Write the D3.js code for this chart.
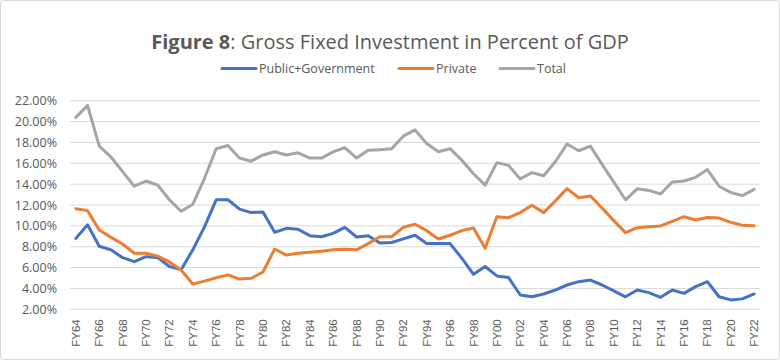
<!DOCTYPE html>
<html>
<head>
<meta charset="utf-8">
<script src="https://cdn.jsdelivr.net/npm/d3@7"></script>
<style>
  html, body { margin: 0; padding: 0; background: #fff; }
  svg { display: block; }
</style>
</head>
<body>
<svg id="chart" width="780" height="360"></svg>
<script>
const years = ["FY64","FY65","FY66","FY67","FY68","FY69","FY70","FY71","FY72","FY73","FY74","FY75","FY76","FY77","FY78","FY79","FY80","FY81","FY82","FY83","FY84","FY85","FY86","FY87","FY88","FY89","FY90","FY91","FY92","FY93","FY94","FY95","FY96","FY97","FY98","FY99","FY00","FY01","FY02","FY03","FY04","FY05","FY06","FY07","FY08","FY09","FY10","FY11","FY12","FY13","FY14","FY15","FY16","FY17","FY18","FY19","FY20","FY21","FY22"];

const publicGov = [8.8,10.1,8.05,7.7,6.95,6.57,7.05,6.95,6.1,5.8,7.7,9.9,12.5,12.5,11.6,11.27,11.33,9.38,9.76,9.67,9.06,8.96,9.28,9.86,8.93,9.06,8.35,8.4,8.75,9.1,8.3,8.3,8.3,6.9,5.35,6.1,5.2,5.04,3.37,3.2,3.47,3.85,4.33,4.65,4.8,4.33,3.76,3.2,3.85,3.6,3.15,3.85,3.53,4.17,4.65,3.2,2.9,3.0,3.47];

const privateInv = [11.65,11.46,9.6,8.9,8.26,7.37,7.37,7.1,6.54,5.77,4.43,4.7,5.03,5.3,4.9,4.97,5.58,7.78,7.2,7.37,7.46,7.56,7.7,7.75,7.7,8.3,8.96,8.96,9.86,10.15,9.54,8.74,9.1,9.54,9.8,7.85,10.88,10.78,11.27,11.97,11.27,12.4,13.57,12.7,12.86,11.7,10.5,9.35,9.83,9.92,9.99,10.43,10.88,10.56,10.8,10.75,10.34,10.05,10.02];

const total = [20.4,21.55,17.65,16.6,15.2,13.8,14.3,13.9,12.5,11.4,12.06,14.56,17.4,17.7,16.5,16.2,16.8,17.1,16.8,17.0,16.5,16.5,17.1,17.5,16.5,17.25,17.3,17.4,18.6,19.2,17.9,17.1,17.4,16.3,15.0,13.9,16.06,15.8,14.5,15.1,14.8,16.15,17.85,17.2,17.65,15.9,14.2,12.5,13.55,13.4,13.05,14.2,14.3,14.65,15.4,13.8,13.2,12.9,13.5];

const yTicks = [2,4,6,8,10,12,14,16,18,20,22];

const seriesNames = ["Public+Government","Private","Total"];
const seriesColors = ["#4472C4","#ED7D31","#A5A5A5"];
const seriesData = [publicGov, privateInv, total];

const svg = d3.select("#chart");
const textColor = "#595959";
const font = "Open Sans, Lato, sans-serif";

// outer border
svg.append("rect").attr("x",0.5).attr("y",0.5).attr("width",779).attr("height",359)
  .attr("rx",3).attr("fill","#fff").attr("stroke","#d9d9d9").attr("stroke-width",1);

const plot = {left:70, right:760, top:100.7, bottom:309.3};

const x = d3.scaleBand().domain(years).range([plot.left, plot.right]);
const xc = d => x(d) + x.bandwidth()/2;
const y = d3.scaleLinear().domain([2,22]).range([plot.bottom, plot.top]);

// gridlines
svg.append("g").selectAll("line").data(yTicks).join("line")
  .attr("x1", plot.left).attr("x2", plot.right)
  .attr("y1", d => y(d)).attr("y2", d => y(d))
  .attr("stroke", "#d9d9d9").attr("stroke-width", 1);

// y axis
const yAxis = d3.axisLeft(y).tickValues(yTicks).tickSize(0).tickPadding(0)
  .tickFormat(d => d.toFixed(2) + "%");
const yg = svg.append("g").attr("transform", `translate(${plot.left-13},0)`).call(yAxis);
yg.select(".domain").remove();
yg.selectAll("text").attr("fill", textColor).attr("font-family", font).attr("font-size", 12.5);

// x axis
const xAxis = d3.axisBottom(x).tickValues(years.filter((d,i) => i % 2 === 0)).tickSize(0).tickPadding(0);
const xg = svg.append("g").attr("transform", `translate(0,${plot.bottom})`).call(xAxis);
xg.select(".domain").remove();
xg.selectAll("text")
  .attr("fill", textColor).attr("font-family", "Liberation Sans, Arial, sans-serif").attr("font-size", 11.5)
  .attr("transform", "rotate(-90)")
  .attr("text-anchor", "end")
  .attr("x", -10).attr("y", 0).attr("dy", "0.35em");

// lines
const line = d3.line().x((d,i) => xc(years[i])).y(d => y(d));
svg.append("g").selectAll("path").data(seriesData).join("path")
  .attr("d", d => line(d))
  .attr("fill", "none")
  .attr("stroke", (d,i) => seriesColors[i])
  .attr("stroke-width", 3)
  .attr("stroke-linejoin", "round")
  .attr("stroke-linecap", "round");

// title
const title = svg.append("text").attr("x", 390).attr("y", 49)
  .attr("text-anchor", "middle").attr("fill", textColor)
  .attr("font-family", font).attr("font-size", 20);
title.append("tspan").attr("font-weight", "bold").text("Figure 8");
title.append("tspan").text(": Gross Fixed Investment in Percent of GDP");

// legend
const legendX = [222, 399, 500];
const lg = svg.append("g");
seriesNames.forEach((n,i) => {
  lg.append("line").attr("x1", legendX[i]).attr("x2", legendX[i]+34)
    .attr("y1", 68.5).attr("y2", 68.5)
    .attr("stroke", seriesColors[i]).attr("stroke-width", 3).attr("stroke-linecap","round");
  lg.append("text").attr("x", legendX[i]+37).attr("y", 68.5).attr("dy","0.35em")
    .attr("fill", textColor).attr("font-family", font).attr("font-size", 12.5).text(n);
});
</script>
</body>
</html>
